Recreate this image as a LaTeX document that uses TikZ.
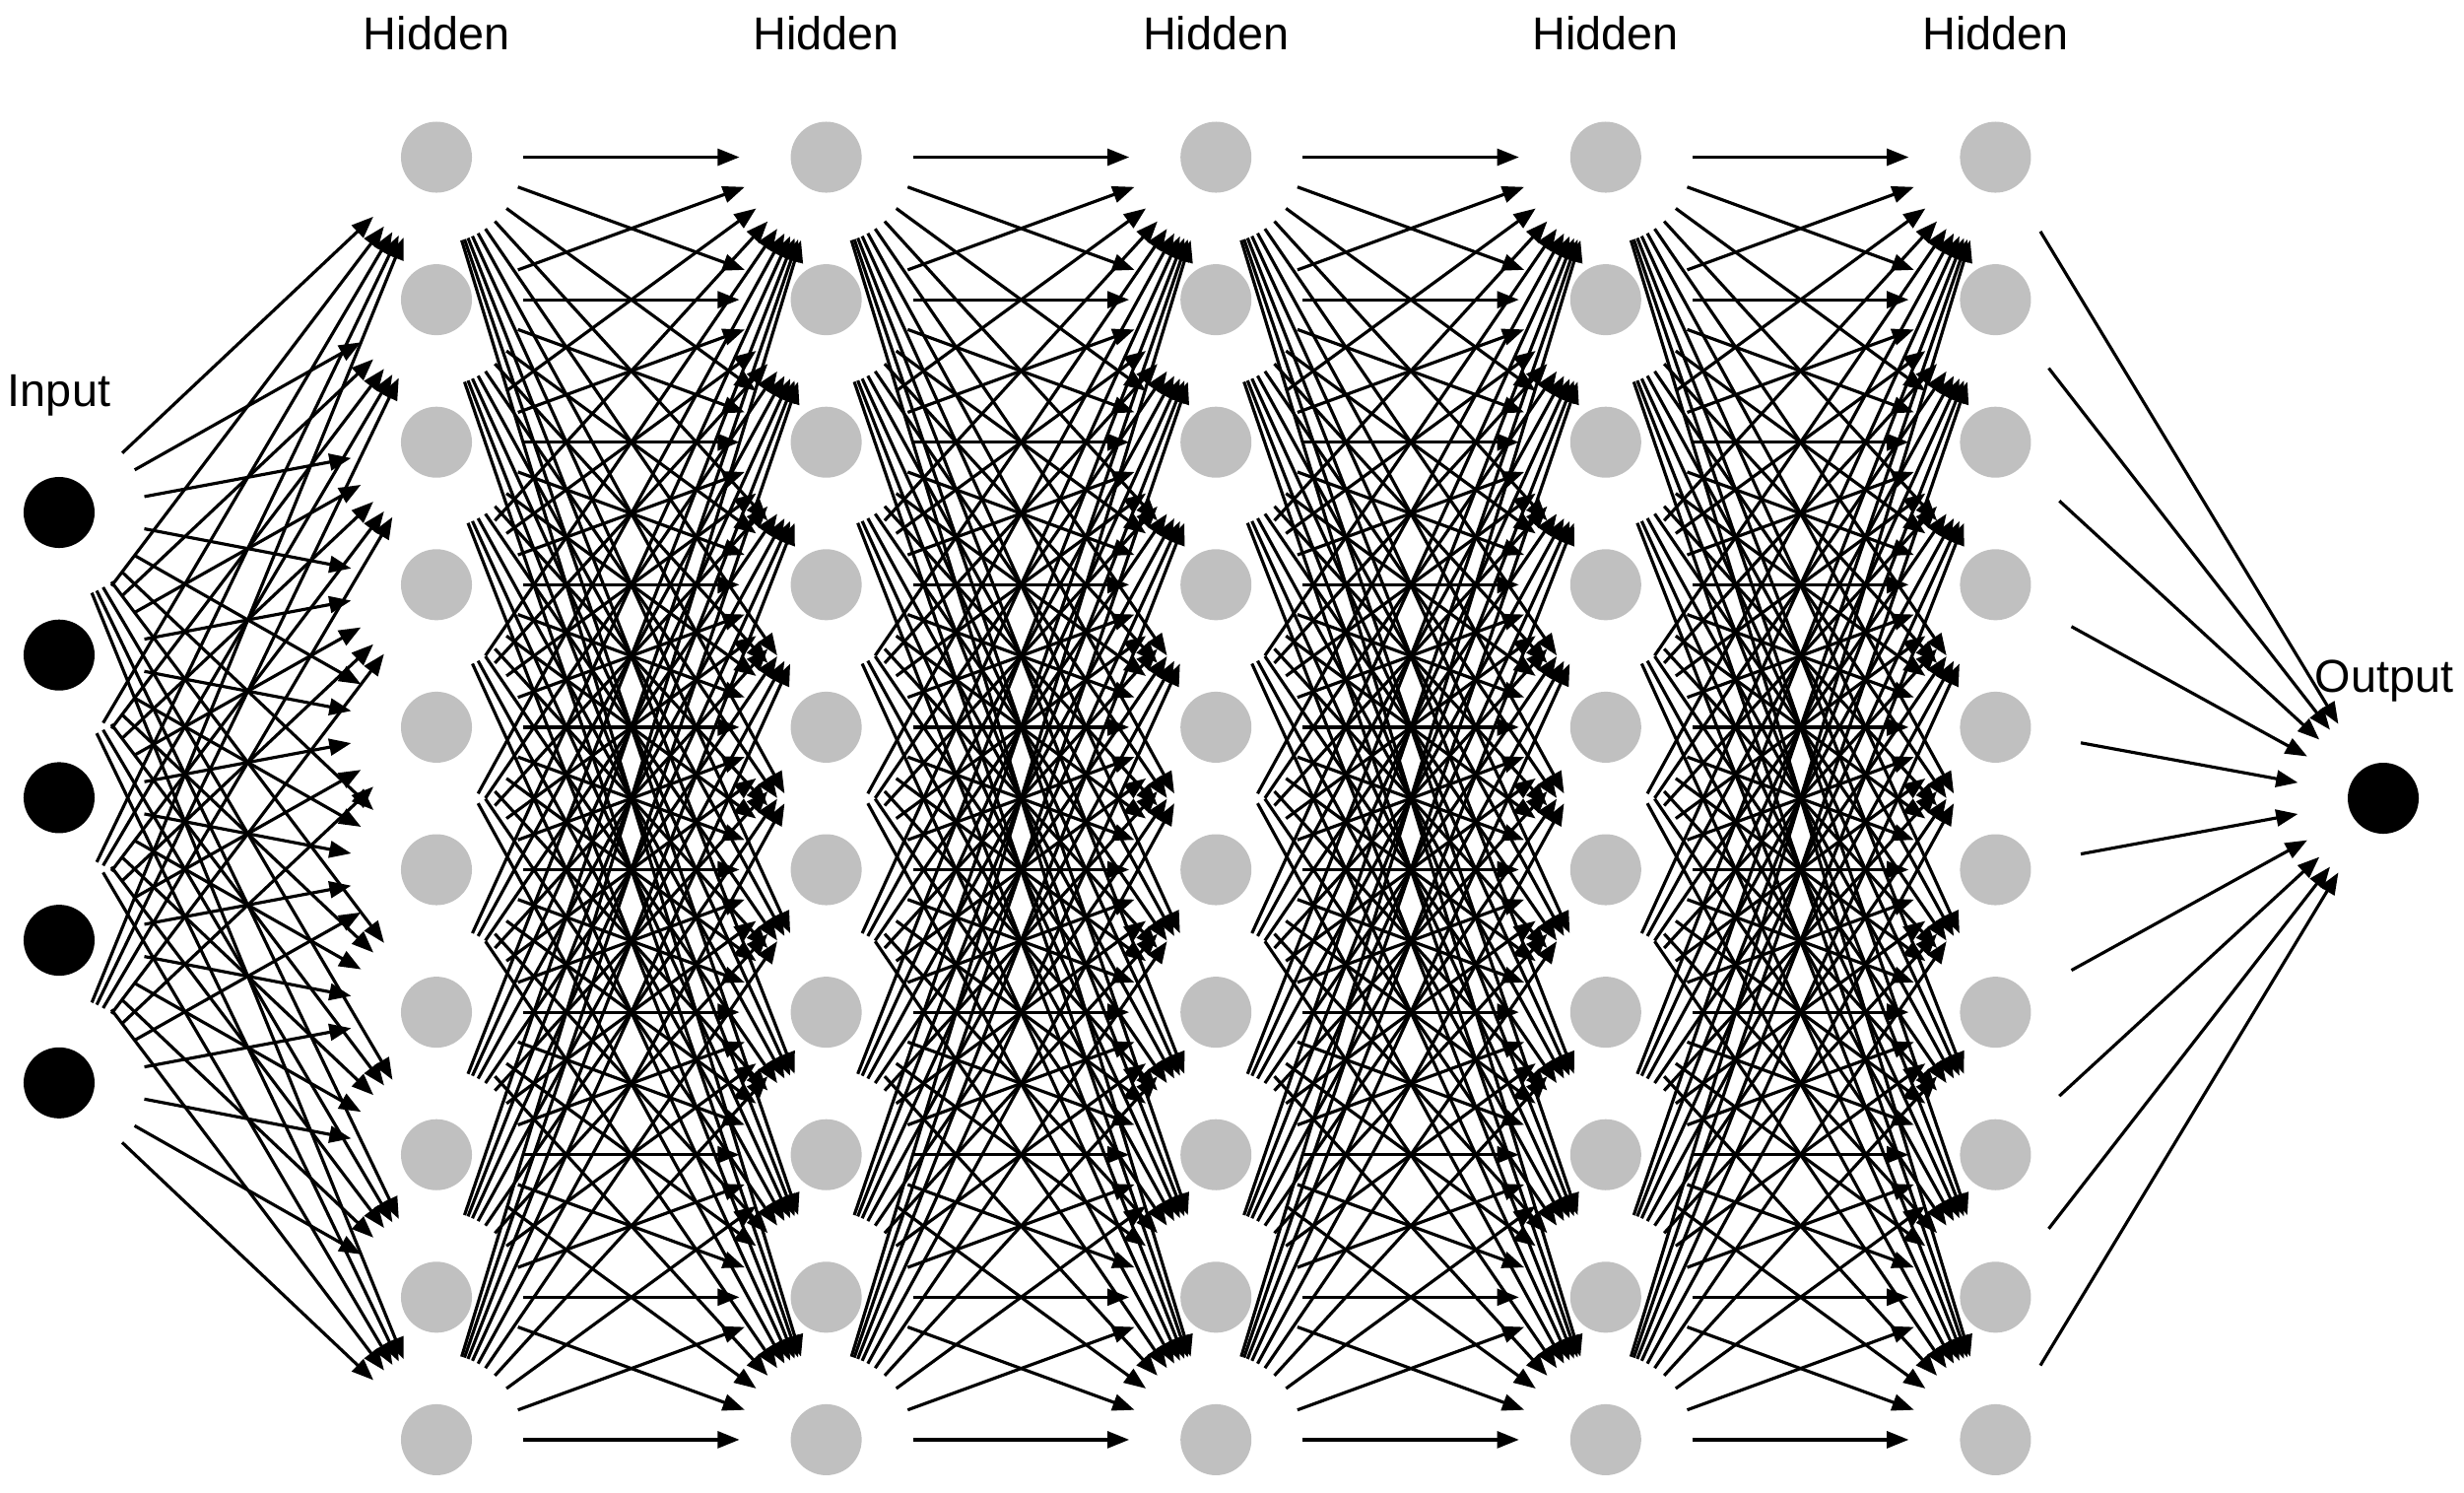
\documentclass[tikz,border=0pt]{standalone}
\usepackage{fontspec}
\setmainfont{Liberation Sans}
\usetikzlibrary{arrows.meta}
\definecolor{nodegray}{RGB}{192,192,192}
\begin{document}
\begin{tikzpicture}[x=0.01cm,y=-0.01cm,
  neuron/.style={circle,minimum size=0.72cm,inner sep=0pt,draw=none},
  innode/.style={neuron,fill=black},
  hidnode/.style={neuron,fill=nodegray},
  conn/.style={-{Triangle[length=6.3pt,width=4.8pt]},line width=0.9pt,shorten <=0.88cm,shorten >=0.88cm},
  lbl/.style={font=\fontsize{13.3}{15}\selectfont,inner sep=0pt,anchor=base}]
\useasboundingbox (0,0) rectangle (2501,1514);
% input layer
\foreach \j in {1,...,5}
  \node[innode] (i\j) at (60,{520+144.7*(\j-1)}) {};
% hidden layers
\foreach \k in {1,...,5}
  \foreach \j in {1,...,10}
    \node[hidnode] (h\k-\j) at ({443+395.6*(\k-1)},{159.5+144.6*(\j-1)}) {};
% output
\node[innode] (o) at (2419,810) {};
% labels
\node[lbl] (linput) at (60,412) {Input};
\node[lbl] (loutput) at (2420,702) {Output};
\foreach \k in {1,...,5}
  \node[lbl] (lh\k) at ({443+395.6*(\k-1)},50) {Hidden};
% connections input -> hidden 1
\foreach \a in {1,...,5}
  \foreach \b in {1,...,10}
    \draw[conn] (i\a.center) -- (h1-\b.center);
% hidden -> hidden
\foreach \k [evaluate=\k as \n using int(\k+1)] in {1,...,4}
  \foreach \a in {1,...,10}
    \foreach \b in {1,...,10}
      \draw[conn] (h\k-\a.center) -- (h\n-\b.center);
% hidden 5 -> output
\foreach \a in {1,...,10}
  \draw[conn] (h5-\a.center) -- (o.center);
\end{tikzpicture}
\end{document}
